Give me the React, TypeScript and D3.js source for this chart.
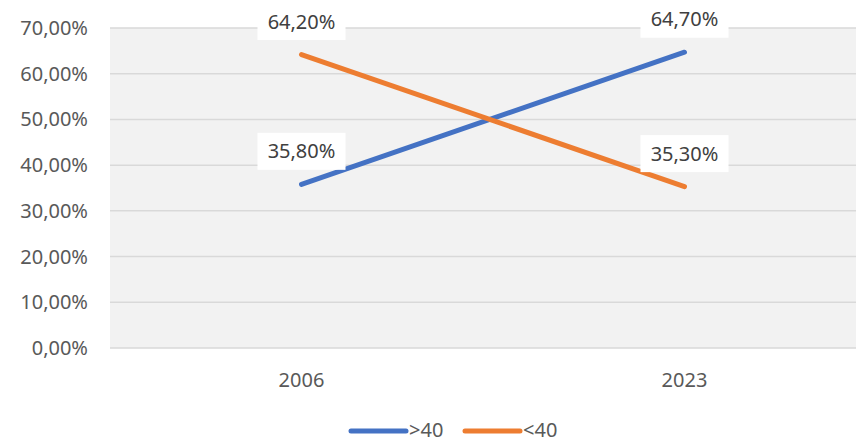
import React from 'react';
import * as d3 from 'd3';

// data
const years = ['2006', '2023'];
const over40 = [35.8, 64.7];
const under40 = [64.2, 35.3];
const seriesNames = ['>40', '<40'];
const yTicks = [0, 10, 20, 30, 40, 50, 60, 70];

const W = 856, H = 442;
const colors = ['#4472c4', '#ed7d31'];
const font = "'Noto Sans', sans-serif";

const fmt = (v: number) => v.toFixed(2).replace('.', ',') + '%';

export default function App() {
  // plot area runs past the right edge of the picture, like the original
  const x = d3.scaleBand<string>().domain(years).range([110, 876]);
  const y = d3.scaleLinear().domain([0, 70]).range([348, 28]);
  const cx = (d: string) => (x(d) ?? 0) + x.bandwidth() / 2;

  const line = d3.line<number>()
    .x((_, i) => cx(years[i]))
    .y(v => y(v));

  const series = [over40, under40];

  return (
    <svg width={W} height={H} style={{ position: 'absolute', left: 0, top: 0, background: '#fff' }}
      fontFamily={font}>
      <rect x={110} y={28} width={W - 110} height={320} fill="#f2f2f2" />
      {yTicks.map(t => (
        <g key={t}>
          <line x1={110} x2={W} y1={y(t)} y2={y(t)} stroke="#d9d9d9" strokeWidth={1.5} />
          <text x={88} y={y(t)} dy="0.35em" textAnchor="end" fontSize={20} fill="#595959">{fmt(t)}</text>
        </g>
      ))}
      {years.map(yr => (
        <text key={yr} x={cx(yr)} y={380} dy="0.35em" textAnchor="middle" fontSize={20} fill="#595959">{yr}</text>
      ))}
      {series.map((s, k) => (
        <path key={k} d={line(s) ?? ''} fill="none" stroke={colors[k]} strokeWidth={5} strokeLinecap="round" />
      ))}
      {series.map((s, k) => s.map((v, i) => {
        const px = cx(years[i]);
        const py = y(v) - 33;
        return (
          <g key={k + '-' + i}>
            <rect x={px - 44} y={py - 18.5} width={88} height={37} fill="#fff" />
            <text x={px} y={py} dy="0.35em" textAnchor="middle" fontSize={20} fill="#404040">{fmt(v)}</text>
          </g>
        );
      }))}
      {seriesNames.map((n, k) => {
        const lx = 351 + k * 114;
        return (
          <g key={n}>
            <line x1={lx} x2={lx + 55} y1={431} y2={431} stroke={colors[k]} strokeWidth={5} strokeLinecap="round" />
            <text x={lx + 58} y={430} dy="0.35em" fontSize={20} fill="#595959">{n}</text>
          </g>
        );
      })}
    </svg>
  );
}
